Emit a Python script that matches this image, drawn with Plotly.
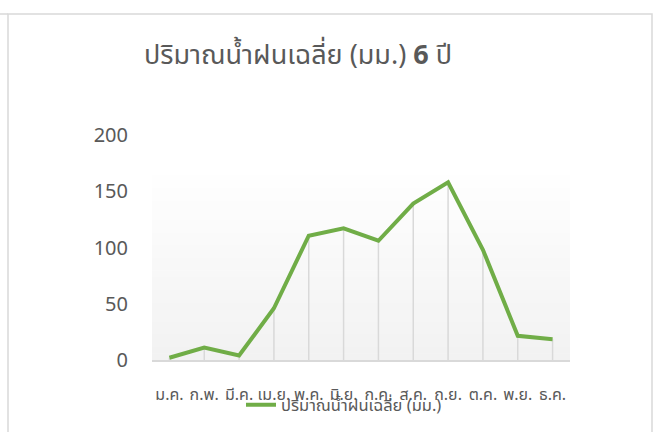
import plotly.graph_objects as go

months = ["ม.ค.", "ก.พ.", "มี.ค.", "เม.ย.", "พ.ค.", "มิ.ย.", "ก.ค.", "ส.ค.", "ก.ย.", "ต.ค.", "พ.ย.", "ธ.ค."]
rain = [2, 11, 4, 46, 110.5, 117, 106, 139, 158, 98, 21.5, 18.5]
series_name = "ปริมาณน้ำฝนเฉลี่ย (มม.)"
title_text = "ปริมาณน้ำฝนเฉลี่ย (มม.) <b>6</b> ปี"
y_ticks = [0, 50, 100, 150, 200]

W, H = 657, 432
L, R, T, B = 152, 87, 135, 72
pw, ph = W - L - R, H - T - B

def px_x(p):
    return (p - L) / pw

def px_y(p):
    return (H - B - p) / ph

FONT = "Noto Sans Thai, Leelawadee UI, Tahoma, DejaVu Sans, sans-serif"
GREY = "#595959"

# drop lines built from the data
dx, dy = [], []
for m, v in zip(months, rain):
    dx += [m, m, None]
    dy += [0, v, None]

fig = go.Figure()
fig.add_trace(go.Scatter(x=dx, y=dy, mode="lines", line=dict(color="#d9d9d9", width=1.5),
                         showlegend=False, hoverinfo="skip"))
fig.add_trace(go.Scatter(x=months, y=rain, mode="lines", name=series_name,
                         line=dict(color="#70ad47", width=4)))

shapes = []
# gradient background
n = 30
for i in range(n):
    t = i / n
    c = int(round(242 + (255 - 242) * t))
    shapes.append(dict(type="rect", xref="paper", yref="paper", x0=0, x1=1,
                       y0=i / n * 0.85, y1=(i + 1) / n * 0.85 + 0.002,
                       fillcolor=f"rgb({c},{c},{c})", line=dict(width=0), layer="below"))
# outer border
shapes.append(dict(type="rect", xref="paper", yref="paper", x0=px_x(8), x1=px_x(652),
                   y0=px_y(440), y1=px_y(14), line=dict(color="#d9d9d9", width=1.5),
                   fillcolor="rgba(0,0,0,0)", layer="below"))
shapes.append(dict(type="line", xref="paper", yref="paper", x0=px_x(0), x1=px_x(8),
                   y0=px_y(14), y1=px_y(14), line=dict(color="#d9d9d9", width=1.5)))

fig.update_layout(
    width=W, height=H,
    margin=dict(l=L, r=R, t=T, b=B, autoexpand=False),
    paper_bgcolor="white", plot_bgcolor="rgba(0,0,0,0)",
    font=dict(family=FONT, color=GREY),
    title=dict(text=title_text, xref="container", yref="container", x=298 / W, y=1 - 55 / H,
               xanchor="center", yanchor="middle", font=dict(size=27, color=GREY, family=FONT)),
    xaxis=dict(type="category", range=[-0.5, 11.5], showgrid=False, showline=True,
               linecolor="#d9d9d9", linewidth=1.5, ticks="", tickfont=dict(size=16, color=GREY),
               tickangle=0, ticklabelstandoff=19, fixedrange=True),
    yaxis=dict(range=[0, 200], tickvals=y_ticks, showgrid=False, showline=False, zeroline=False,
               ticks="", tickfont=dict(size=20, color=GREY), ticklabelstandoff=23),
    legend=dict(orientation="h", x=px_x(344), y=px_y(405), xanchor="center", yanchor="middle",
                font=dict(size=16.5, color=GREY), bgcolor="rgba(0,0,0,0)"),
    shapes=shapes,
)

fig.write_html("out.html", config={"displayModeBar": False},
               post_script="document.body.style.margin='0';")
